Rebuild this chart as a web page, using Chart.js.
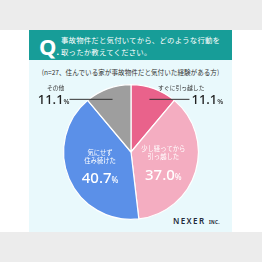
<!DOCTYPE html>
<html>
<head>
<meta charset="utf-8">
<script src="https://cdn.jsdelivr.net/npm/chart.js@4"></script>
<style>
  html, body { margin: 0; padding: 0; }
  body { width: 262px; height: 262px; background: #ececec; position: relative; overflow: hidden;
         font-family: "Noto Sans CJK JP", "Noto Sans", sans-serif; }
  .white { position: absolute; left: 0; top: 30px; width: 262px; height: 202px; background: #ffffff; }
  .panel { position: absolute; left: 29px; top: 60px; width: 203px; height: 172px; background: #e9f9fc; }
  .head { position: absolute; left: 29px; top: 30px; width: 203px; height: 30px; background: #179d98; color: #fff; }
  .q { position: absolute; left: 10px; top: 1px; font: 700 22px "Noto Sans", sans-serif; }
  .qt { position: absolute; left: 32px; top: 4px; font-size: 7.4px; line-height: 11.5px; letter-spacing: 0.2px; white-space: nowrap; }
  .sub { position: absolute; left: 29px; top: 67px; width: 203px; text-align: center; font-size: 6.6px; color: #333; white-space: nowrap; }
  .logo { position: absolute; left: 173px; top: 215px; color: #1e2a3a; font: 600 8px "Noto Sans", sans-serif; letter-spacing: 1.4px; }
  .logo small { font-size: 4.5px; letter-spacing: 0.3px; font-weight: 700; }
  #wrap { position: absolute; left: 0; top: 0; width: 262px; height: 262px; }
</style>
</head>
<body>
<div class="white"></div>
<div class="panel"></div>
<div class="head"><div class="q">Q<span style="font-size:9px">.</span></div>
  <div class="qt">事故物件だと気付いてから、どのような行動を<br>取ったか教えてください。</div></div>
<div class="sub">(n=27、住んでいる家が事故物件だと気付いた経験がある方)</div>
<div class="logo">NEXER <small>INC.</small></div>
<div id="wrap"><canvas id="pie"></canvas></div>
<script>
// pie data, clockwise from top
const labels = ["すぐに引っ越した", "少し経ってから\n引っ越した", "気にせず\n住み続けた", "その他"];
const shares = [11.1, 37.0, 40.7, 11.1];
const colors = ["#e9628b", "#f4adc1", "#5b90e8", "#9e9e9e"];

// label drawing: small ones outside with leader line, big ones inside
const labelPlugin = {
    id: 'pieLabels',
    afterDatasetsDraw(chart) {
        const ctx = chart.ctx;
        const arcs = chart.getDatasetMeta(0).data;
        arcs.forEach((arc, i) => {
            const txt = labels[i].split("\n");
            const num = shares[i].toFixed(1);
            ctx.save();
            if (shares[i] > 20) {
                const p = arc.tooltipPosition();
                ctx.fillStyle = '#fff';
                ctx.textAlign = 'center';
                ctx.textBaseline = 'middle';
                ctx.font = '6.3px "Noto Sans CJK JP"';
                txt.forEach((t, k) => ctx.fillText(t, p.x, p.y - 13 + k * 8));
                ctx.font = '500 15px "Noto Sans"';
                const w = ctx.measureText(num).width;
                ctx.font = '500 8px "Noto Sans"';
                const pw = ctx.measureText('%').width;
                ctx.textAlign = 'left';
                ctx.textBaseline = 'alphabetic';
                ctx.font = '500 15px "Noto Sans"';
                const x0 = p.x - (w + pw) / 2;
                ctx.fillText(num, x0, p.y + 18);
                ctx.font = '500 8px "Noto Sans"';
                ctx.fillText('%', x0 + w, p.y + 18);
            } else {
                const mid = (arc.startAngle + arc.endAngle) / 2;
                const r = arc.outerRadius * 0.8;
                const sx = arc.x + Math.cos(mid) * r;
                const sy = arc.y + Math.sin(mid) * r - 2;
                const right = Math.cos(mid) > 0;
                const ex = right ? sx + 40 : sx - 43;
                ctx.strokeStyle = '#333';
                ctx.lineWidth = 1;
                ctx.beginPath();
                ctx.moveTo(sx, sy);
                ctx.lineTo(ex, sy);
                ctx.stroke();
                ctx.fillStyle = '#222';
                ctx.font = '500 13px "Noto Sans"';
                const w = ctx.measureText(num).width;
                ctx.font = '500 7px "Noto Sans"';
                const pw = ctx.measureText('%').width;
                const x0 = right ? ex + 2 : ex - w - pw;
                ctx.textBaseline = 'alphabetic';
                ctx.textAlign = 'left';
                ctx.font = '500 13px "Noto Sans"';
                ctx.fillText(num, x0, sy + 5);
                ctx.font = '500 7px "Noto Sans"';
                ctx.fillText('%', x0 + w, sy + 5);
                ctx.font = '5.8px "Noto Sans CJK JP"';
                ctx.fillStyle = '#333';
                ctx.textAlign = right ? 'right' : 'center';
                ctx.fillText(txt[0], right ? ex + 15 : x0 + (w + pw) / 2 + 2, sy - 9);
            }
            ctx.restore();
        });
    }
};

new Chart(document.getElementById('pie'), {
    type: 'pie',
    data: {
        labels: labels,
        datasets: [{
            data: shares,
            backgroundColor: colors,
            borderColor: '#ffffff',
            borderWidth: 1.2
        }]
    },
    options: {
        responsive: true,
        maintainAspectRatio: false,
        animation: false,
        layout: { padding: { top: 84, bottom: 42, left: 63, right: 63 } },
        plugins: { legend: { display: false }, tooltip: { enabled: false } }
    },
    plugins: [labelPlugin]
});
</script>
</body>
</html>
